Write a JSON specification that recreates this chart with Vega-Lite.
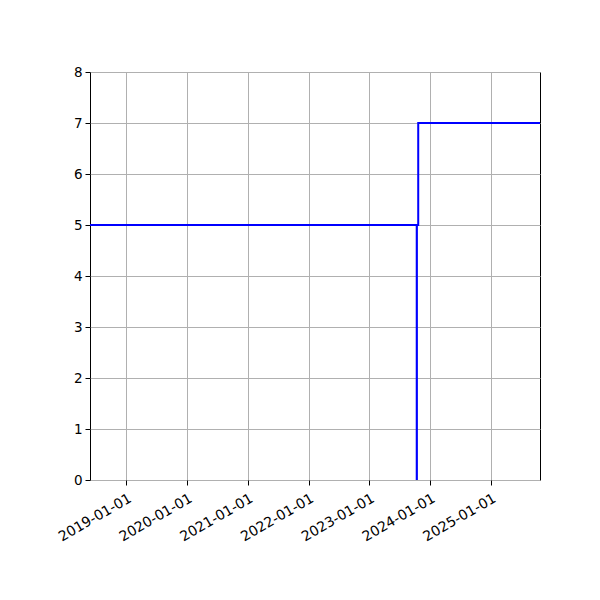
{
  "$schema": "https://vega.github.io/schema/vega-lite/v6.json",
  "width": 450,
  "height": 408,
  "autosize": {"type": "none"},
  "padding": {"left": 90, "top": 72, "right": 60, "bottom": 120},
  "background": "white",
  "config": {
    "view": {"stroke": "black", "strokeWidth": 1},
    "font": "DejaVu Sans",
    "axis": {
      "labelFont": "DejaVu Sans",
      "labelFontSize": 13.5,
      "labelColor": "black",
      "tickColor": "black",
      "tickSize": 5,
      "labelPadding": 3,
      "labelOverlap": false,
      "labelBound": false,
      "labelFlush": false,
      "gridColor": "#b0b0b0",
      "gridWidth": 1,
      "domain": false,
      "title": null
    }
  },
  "data": {
    "values": [
      {"date": "2018-05-27", "value": 5},
      {"date": "2023-10-12", "value": 0},
      {"date": "2023-10-13", "value": 5},
      {"date": "2023-10-21", "value": 7},
      {"date": "2025-10-22", "value": 7}
    ]
  },
  "mark": {"type": "line", "interpolate": "step-after", "color": "#0000ff", "strokeWidth": 2, "clip": true},
  "encoding": {
    "x": {
      "field": "date",
      "type": "temporal",
      "scale": {"type": "utc", "domain": [{"year": 2018, "month": 5, "date": 27, "utc": true}, {"year": 2025, "month": 10, "date": 22, "utc": true}], "nice": false},
      "axis": {
        "format": "%Y-%m-%d",
        "values": [
          {"year": 2019, "month": 1, "date": 1, "utc": true},
          {"year": 2020, "month": 1, "date": 1, "utc": true},
          {"year": 2021, "month": 1, "date": 1, "utc": true},
          {"year": 2022, "month": 1, "date": 1, "utc": true},
          {"year": 2023, "month": 1, "date": 1, "utc": true},
          {"year": 2024, "month": 1, "date": 1, "utc": true},
          {"year": 2025, "month": 1, "date": 1, "utc": true}
        ],
        "labelAngle": -30,
        "labelAlign": "right",
        "labelBaseline": "top",
        "labelFontSize": 14,
        "labelPadding": 6,
        "labelDx": -3
      }
    },
    "y": {
      "field": "value",
      "type": "quantitative",
      "scale": {"domain": [0, 8], "nice": false},
      "axis": {"values": [0, 1, 2, 3, 4, 5, 6, 7, 8]}
    }
  }
}
